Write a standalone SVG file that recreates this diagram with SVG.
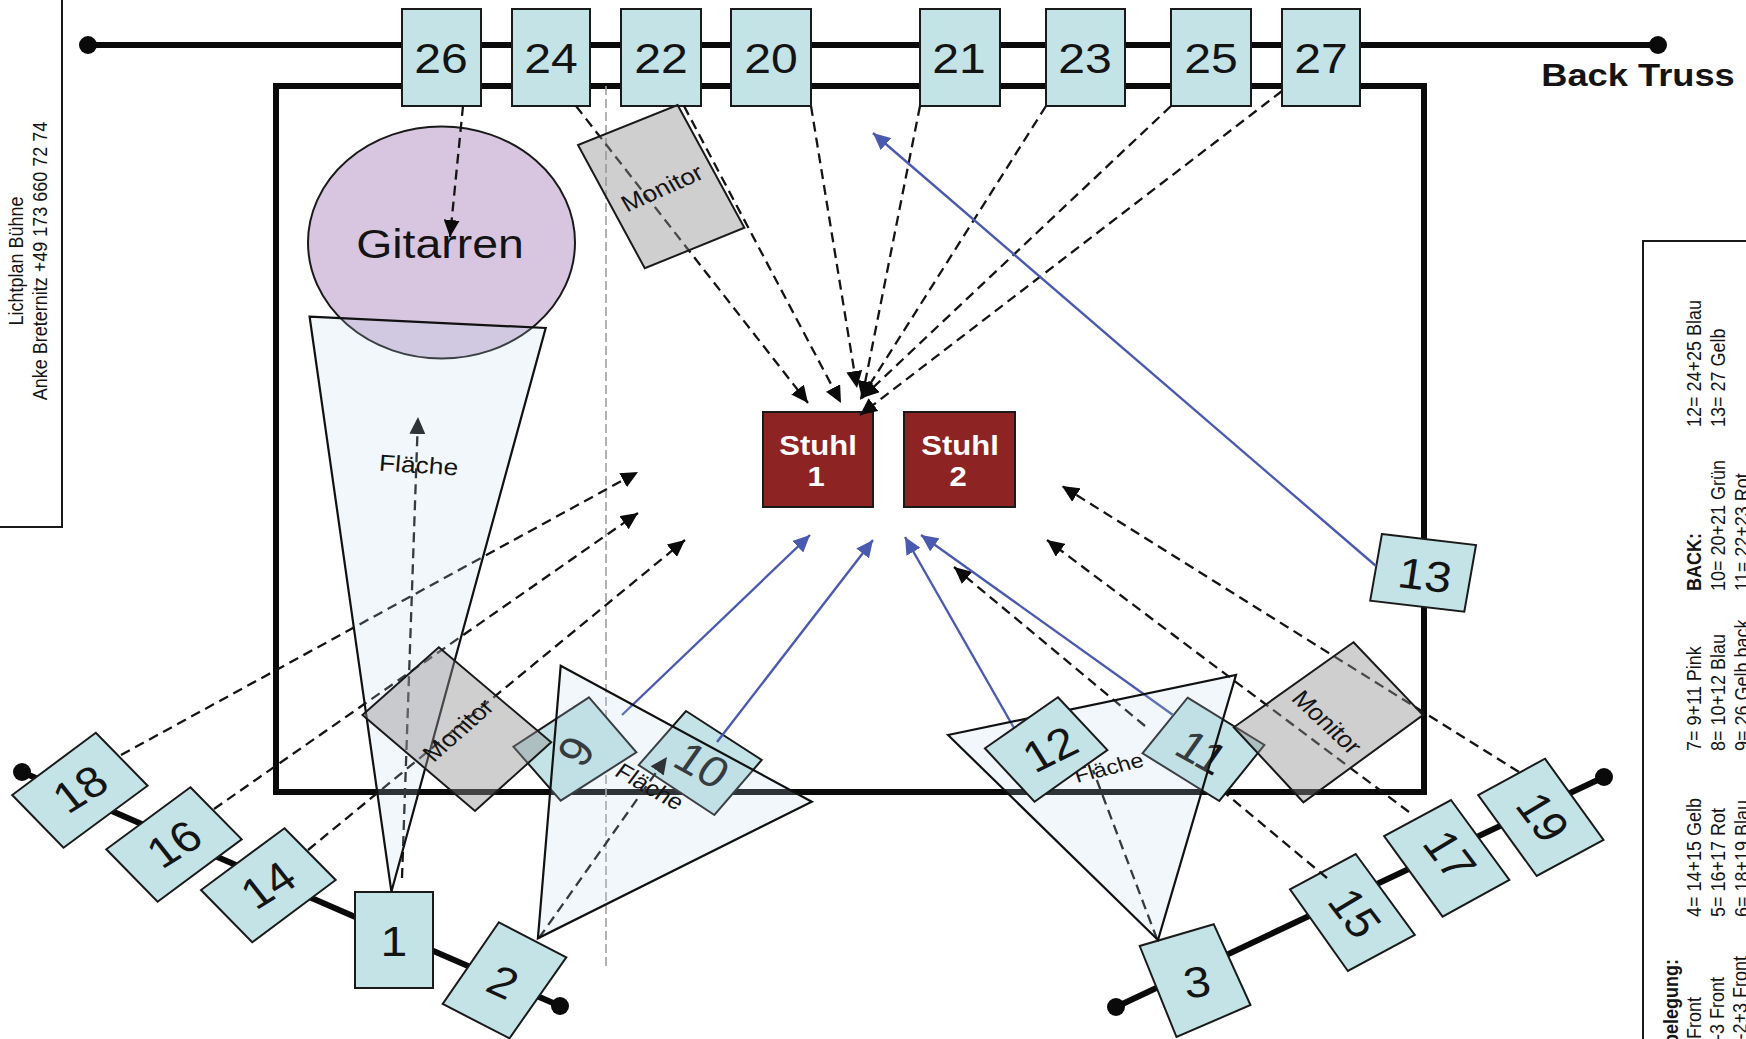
<svg xmlns="http://www.w3.org/2000/svg" width="1746" height="1039" viewBox="0 0 1746 1039">
<style>
text{font-family:"Liberation Sans",Arial,sans-serif;fill:#141414}
.n{fill:#c3e3e6;stroke:#1a1a1a;stroke-width:2}
.num{font-size:43px;text-anchor:middle}
.tri{fill:#b9d7e6;fill-opacity:.2;stroke:#111;stroke-width:2.2}
.mon{fill:#928f92;fill-opacity:.43;stroke:#1a1a1a;stroke-width:2}
.lbl{font-size:23px;text-anchor:middle}
.leg{font-size:18px}
.truss{stroke:#0a0a0a;stroke-width:6;fill:none}
.d{stroke:#141414;stroke-width:2.3;stroke-dasharray:10 6;fill:none;marker-end:url(#ab)}
.p{stroke:#141414;stroke-width:2.3;stroke-dasharray:10 6;fill:none}
.b{stroke:#4a5ab0;stroke-width:2.4;fill:none;marker-end:url(#au)}
.chair{fill:#8e2323;stroke:#1a1a1a;stroke-width:2}
.st{font-size:27px;font-weight:bold;text-anchor:middle;fill:#fff}
</style>
<defs>
<marker id="ab" markerUnits="userSpaceOnUse" markerWidth="18" markerHeight="16" refX="17" refY="8" orient="auto"><path d="M0 0L17 8L0 16z" fill="#0a0a0a"/></marker>
<marker id="au" markerUnits="userSpaceOnUse" markerWidth="18" markerHeight="16" refX="17" refY="8" orient="auto"><path d="M0 0L17 8L0 16z" fill="#4a5ab0"/></marker>
</defs>
<rect width="1746" height="1039" fill="#fff"/>
<g id="title-box">
<path d="M0 527H62V0" fill="none" stroke="#1a1a1a" stroke-width="2"/>
<text class="leg" text-anchor="middle" transform="translate(23,261) scale(1.15,1) rotate(-90)">Lichtplan Bühne</text>
<text class="leg" text-anchor="middle" transform="translate(47,261) scale(1.15,1) rotate(-90)">Anke Breternitz +49 173 660 72 74</text>
</g>
<g id="legend">
<path d="M1746 241H1643V1039" fill="none" stroke="#1a1a1a" stroke-width="2"/>
<g class="leg">
<text text-anchor="end" font-weight="bold" transform="translate(1678,959) scale(1.15,1) rotate(-90)">belegung:</text>
<text text-anchor="end" transform="translate(1701,997) scale(1.15,1) rotate(-90)">Front</text>
<text text-anchor="end" transform="translate(1724,977) scale(1.15,1) rotate(-90)">-3 Front</text>
<text text-anchor="end" transform="translate(1747,956) scale(1.15,1) rotate(-90)">-2+3 Front</text>
<text transform="translate(1701,917) scale(1.15,1) rotate(-90)">4= 14+15 Gelb</text>
<text transform="translate(1725,917) scale(1.15,1) rotate(-90)">5= 16+17 Rot</text>
<text transform="translate(1749,917) scale(1.15,1) rotate(-90)">6= 18+19 Blau</text>
<text transform="translate(1701,751) scale(1.15,1) rotate(-90)">7= 9+11 Pink</text>
<text transform="translate(1725,751) scale(1.15,1) rotate(-90)">8= 10+12 Blau</text>
<text transform="translate(1749,751) scale(1.15,1) rotate(-90)">9= 26 Gelb back</text>
<text font-weight="bold" transform="translate(1701,591) scale(1.15,1) rotate(-90)">BACK:</text>
<text transform="translate(1725,591) scale(1.15,1) rotate(-90)">10= 20+21 Grün</text>
<text transform="translate(1749,591) scale(1.15,1) rotate(-90)">11= 22+23 Rot</text>
<text transform="translate(1701,427) scale(1.15,1) rotate(-90)">12= 24+25 Blau</text>
<text transform="translate(1725,427) scale(1.15,1) rotate(-90)">13= 27 Gelb</text>
</g>
</g>
<g id="stage"><rect x="276" y="86" width="1148" height="706" fill="none" stroke="#0a0a0a" stroke-width="6"/></g>
<g id="trusses">
<path class="truss" d="M88 45H1658"/><circle cx="88" cy="45" r="9" fill="#0a0a0a"/><circle cx="1658" cy="45" r="9" fill="#0a0a0a"/>
<path class="truss" d="M22 772L560 1006"/><circle cx="22" cy="772" r="9" fill="#0a0a0a"/><circle cx="560" cy="1006" r="9" fill="#0a0a0a"/>
<path class="truss" d="M1116 1007L1604 777"/><circle cx="1116" cy="1007" r="9" fill="#0a0a0a"/><circle cx="1604" cy="777" r="9" fill="#0a0a0a"/>
<text y="86" font-size="31" font-weight="bold" text-anchor="middle" transform="translate(1638,0) scale(1.17,1)">Back Truss</text>
</g>
<path id="center-line" d="M606 86V967" stroke="#a0a0a0" stroke-width="1.6" stroke-dasharray="9 4" fill="none"/>
<g id="gitarren"><ellipse cx="441.5" cy="242.5" rx="133.5" ry="116" fill="#d8c6e0" stroke="#1a1a1a" stroke-width="2"/></g>
<g id="n26"><rect class="n" x="402" y="9" width="79" height="97"/><text class="num" transform="translate(441,73) scale(1.12,1)">26</text></g>
<g id="n24"><rect class="n" x="512" y="9" width="78" height="97"/><text class="num" transform="translate(551,73) scale(1.12,1)">24</text></g>
<g id="n22"><rect class="n" x="621" y="9" width="80" height="97"/><text class="num" transform="translate(661,73) scale(1.12,1)">22</text></g>
<g id="n20"><rect class="n" x="731" y="9" width="80" height="97"/><text class="num" transform="translate(771,73) scale(1.12,1)">20</text></g>
<g id="n21"><rect class="n" x="920" y="9" width="80" height="97"/><text class="num" transform="translate(959,73) scale(1.12,1)">21</text></g>
<g id="n23"><rect class="n" x="1046" y="9" width="79" height="97"/><text class="num" transform="translate(1085,73) scale(1.12,1)">23</text></g>
<g id="n25"><rect class="n" x="1171" y="9" width="80" height="97"/><text class="num" transform="translate(1211,73) scale(1.12,1)">25</text></g>
<g id="n27"><rect class="n" x="1282" y="9" width="78" height="97"/><text class="num" transform="translate(1321,73) scale(1.12,1)">27</text></g>
<g id="stuhl1"><rect class="chair" x="763" y="412" width="110" height="95"/><text class="st" transform="translate(818,455) scale(1.15,1)">Stuhl</text><text class="st" transform="translate(816,486) scale(1.15,1)">1</text></g>
<g id="stuhl2"><rect class="chair" x="904" y="412" width="111" height="95"/><text class="st" transform="translate(960,455) scale(1.15,1)">Stuhl</text><text class="st" transform="translate(958,486) scale(1.15,1)">2</text></g>
<g id="n18"><polygon class="n" points="95.8,732.7 147.6,785.7 63.5,847.7 12.2,795"/><text class="num" y="15" transform="translate(80,789) scale(1.12,1) rotate(-35)">18</text></g>
<g id="n16"><polygon class="n" points="190.4,787.3 241.7,839.3 157.6,901.7 106.3,849.3"/><text class="num" y="15" transform="translate(174,844) scale(1.12,1) rotate(-35)">16</text></g>
<g id="n14"><polygon class="n" points="284.5,828.3 335.7,880 252.2,942.3 201,890"/><text class="num" y="15" transform="translate(268,885) scale(1.12,1) rotate(-35)">14</text></g>
<g id="n1"><rect class="n" x="355" y="892" width="78" height="96"/><text class="num" y="15" transform="translate(394,941) scale(1.12,1)">1</text></g>
<g id="n2"><polygon class="n" points="498.9,922.3 566.3,957.3 509.5,1038.3 442.7,1004"/><text class="num" y="15" transform="translate(503,982) scale(1.12,1) rotate(27)">2</text></g>
<g id="n9"><polygon class="n" points="589,697.3 636.4,752.3 560.7,800.7 513.4,746.7"/><text class="num" y="15" transform="translate(576,751) scale(1.12,1) rotate(-55)">9</text></g>
<g id="n10"><polygon class="n" points="686,711 761.7,760 714.4,815 638.7,765"/><text class="num" y="15" transform="translate(702,765) scale(1.12,1) rotate(32)">10</text></g>
<g id="n11"><polygon class="n" points="1187.6,697.7 1264.4,745 1219.3,801 1142.5,753.3"/><text class="num" y="15" transform="translate(1202,752) scale(1.12,1) rotate(32)">11</text></g>
<g id="n13"><polygon class="n" points="1381.9,534 1476,545 1464.3,611.7 1370.2,600.7"/><text class="num" y="15" transform="translate(1425,575) scale(1.12,1) rotate(7.6)">13</text></g>
<g id="n19"><polygon class="n" points="1545,758.7 1603.5,840 1536.7,876 1478.2,795"/><text class="num" y="15" transform="translate(1543,817) scale(1.12,1) rotate(56)">19</text></g>
<g id="n17"><polygon class="n" points="1451,800 1509.4,880 1442.6,916.7 1384.1,836"/><text class="num" y="15" transform="translate(1450,855) scale(1.12,1) rotate(56)">17</text></g>
<g id="n15"><polygon class="n" points="1355.7,854 1414.8,935 1347.9,971 1290,889.3"/><text class="num" y="15" transform="translate(1355,913) scale(1.12,1) rotate(56)">15</text></g>
<g id="n3"><polygon class="n" points="1213.8,924.3 1250.5,1005 1176.5,1037 1139.7,946"/><text class="num" y="15" transform="translate(1197,982) scale(1.12,1) rotate(-8)">3</text></g>
<g id="connectors">
<path class="d" d="M463 106L450 237"/>
<path class="d" d="M576 106L808 403"/>
<path class="d" d="M684 106L841 403"/>
<path class="d" d="M811 106L857 388"/>
<path class="d" d="M920 106L862 398"/>
<path class="d" d="M1046 106L860 400"/>
<path class="d" d="M1171 106L862 398"/>
<path class="d" d="M1282 91L860 415"/>
<path class="d" d="M121 755L638 472"/>
<path class="d" d="M214 809L638 513"/>
<path class="d" d="M308 850L685 540"/>
<path class="d" d="M402 878L418 417"/>
<path class="d" d="M539 938L667 757"/>
<path class="p" d="M1327 878L1225 793"/>
<path class="d" d="M1145 726L954 567"/>
<path class="d" d="M1409 812L1047 540"/>
<path class="d" d="M1519 772L1062 486"/>
<path class="p" d="M1157 939L1093 770"/>
<path class="b" d="M1376 566L873 133"/>
<path class="b" d="M622 715L810 535"/>
<path class="b" d="M717 742L873 540"/>
<path class="b" d="M1014 728L905 537"/>
<path class="b" d="M1173 715L921 535"/>
</g>
<g id="flaeche1"><polygon class="tri" points="309.6,316.7 545.7,328 391.4,891.7"/><text class="lbl" transform="translate(418,473) scale(1.15,1) rotate(4)">Fläche</text></g>
<g id="flaeche2"><polygon class="tri" points="560.7,665.7 811.8,801.7 537.9,938.3"/><text class="lbl" style="font-size:22px" transform="translate(645,793) scale(1.15,1) rotate(33)">Fläche</text></g>
<g id="flaeche3"><polygon class="tri" points="948,735 1236,675 1158,940"/><text class="lbl" style="text-anchor:end;font-size:20.5px" transform="translate(1145,766) scale(1.15,1) rotate(-16)">Fläche</text></g>
<g id="n12"><polygon class="n" points="1057.9,697.3 1107.4,750 1034.5,801.7 984.9,748.3"/><text class="num" y="15" transform="translate(1050,749) scale(1.12,1) rotate(-29)">12</text></g>
<g id="monitor1"><polygon class="mon" points="677.6,105 744.4,227.7 644.8,268.3 578,145"/><text class="lbl" y="8" transform="translate(662,188) scale(1.15,1) rotate(-27)">Monitor</text></g>
<g id="monitor2"><polygon class="mon" points="438.8,647.3 551.2,742.3 475,811 362.5,715"/><text class="lbl" y="8" transform="translate(458,730) scale(1.15,1) rotate(-45.6)">Monitor</text></g>
<g id="monitor3"><polygon class="mon" points="1353.5,642.3 1423,715 1303.4,802.3 1233.8,727.3"/><text class="lbl" y="8" transform="translate(1327,722) scale(1.15,1) rotate(47)">Monitor</text></g>
<g id="gitarren-label"><text font-size="40" text-anchor="middle" transform="translate(440,258) scale(1.16,1)">Gitarren</text></g>
</svg>
